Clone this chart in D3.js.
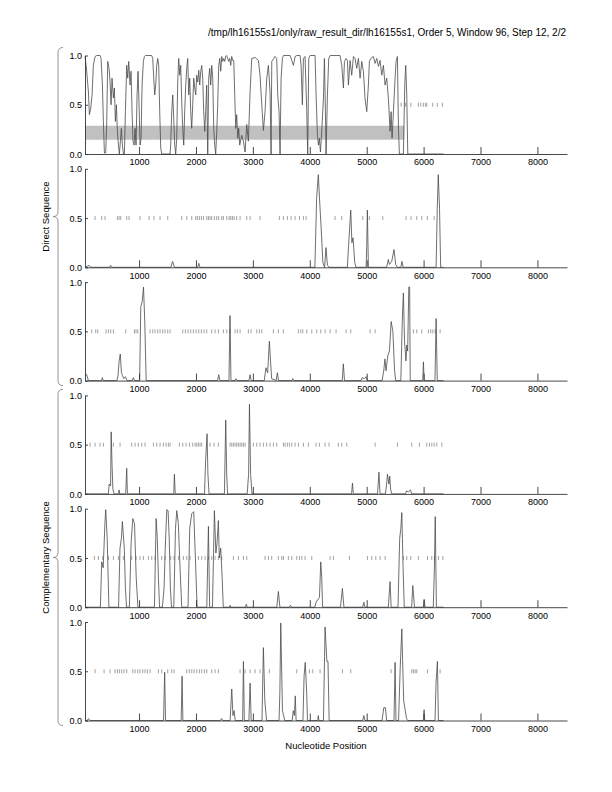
<!DOCTYPE html>
<html>
<head>
<meta charset="utf-8">
<script src="https://cdn.jsdelivr.net/npm/d3@7"></script>
<style>
  body { margin: 0; background: #fff; }
  svg text { font-family: "Liberation Sans", Arial, Helvetica, sans-serif; font-size: 9px; fill: #000; }
  svg text.title { font-size: 10px; }
  svg text.label { font-size: 9.5px; }
</style>
</head>
<body>
<svg id="chart" width="612" height="792"></svg>
<script>
// ---- data ----
const title = "/tmp/lh16155s1/only/raw_result_dir/lh16155s1, Order 5, Window 96, Step 12, 2/2";
const xLabel = "Nucleotide Position";
const groupLabels = ["Direct Sequence", "Complementary Sequence"];
const xDomain = [50, 8520];
const xTicks = [1000, 2000, 3000, 4000, 5000, 6000, 7000, 8000];
const yTicks = [0, 0.5, 1];

// shaded band in the first panel: [low, high, end position]
const band = [0.145, 0.287, 5660];

// coding potential curves, [position, value]
const direct1 = [
  [51,0.99],[80,0.84],[110,0.63],[127,0.40],[150,0.46],[174,0.60],[197,0.90],[227,0.99],[256,1.0],[315,1.0],
  [332,0.97],[356,0.70],[373,0.33],[391,0.01],[414,0.01],[432,0.33],[449,0.94],[473,0.87],[490,0.73],[508,0.50],
  [525,0.77],[549,0.57],[566,0.67],[584,0.33],[602,0.50],[619,0.23],[637,0.09],[654,0.0],[672,0.13],[689,0.26],
  [707,0.09],[725,0.0],[742,0.0],[760,0.43],[783,0.90],[801,0.77],[818,0.94],[842,0.70],[859,0.84],[877,0.43],
  [894,0.13],[912,0.09],[930,0.26],[947,0.09],[965,0.60],[982,0.84],[1000,0.50],[1018,0.09],[1035,0.16],[1053,0.70],
  [1076,0.94],[1094,0.99],[1111,1.0],[1222,1.0],[1240,0.97],[1258,0.77],[1275,0.60],[1293,0.70],[1310,0.90],[1328,0.97],
  [1345,0.90],[1363,0.43],[1381,0.06],[1398,0.0],[1545,0.0],[1556,0.09],[1574,0.43],[1592,0.60],[1609,0.36],[1627,0.09],
  [1644,0.0],[1662,0.16],[1679,0.73],[1697,0.97],[1715,0.80],[1732,0.90],[1750,0.53],[1767,0.26],[1785,0.09],[1802,0.43],
  [1820,0.70],[1838,0.87],[1855,0.97],[1873,0.60],[1890,0.77],[1908,0.43],[1925,0.26],[1943,0.50],[1961,0.77],[1978,0.67],
  [1996,0.60],[2013,0.80],[2031,0.73],[2049,0.85],[2066,0.70],[2084,0.84],[2101,0.90],[2119,0.77],[2136,0.43],[2154,0.23],
  [2171,0.43],[2189,0.70],[2207,0.0],[2224,0.77],[2242,0.87],[2259,0.70],[2277,0.90],[2295,0.77],[2312,0.26],[2330,0.09],
  [2347,0.0],[2365,0.23],[2382,0.50],[2400,0.90],[2418,0.97],[2435,0.84],[2453,0.99],[2470,0.94],[2488,0.97],[2505,0.94],
  [2523,0.99],[2540,1.0],[2558,0.97],[2576,0.94],[2593,0.97],[2611,0.90],[2628,0.99],[2646,0.95],[2664,0.95],[2681,0.60],
  [2699,0.26],[2716,0.40],[2734,0.16],[2751,0.26],[2769,0.09],[2804,0.19],[2834,0.13],[2863,0.02],[2892,0.30],[2921,0.13],
  [2951,0.63],[2980,0.97],[3039,0.98],[3097,0.95],[3126,0.80],[3156,0.50],[3185,0.24],[3214,0.43],[3244,0.77],[3273,0.90],
  [3302,0.63],[3320,0.0],[3332,0.94],[3390,0.99],[3419,0.97],[3437,0.60],[3460,0.43],[3478,0.0],[3496,0.77],[3519,0.97],
  [3537,1.0],[3654,1.0],[3683,0.95],[3712,0.90],[3742,0.99],[3771,1.0],[3829,1.0],[3847,0.90],[3870,0.50],[3888,0.97],
  [3917,0.99],[3947,0.43],[3964,0.0],[3982,0.97],[4005,1.0],[4093,1.0],[4111,0.60],[4134,0.19],[4152,0.09],[4169,0.16],
  [4187,0.02],[4210,0.23],[4240,0.56],[4257,0.97],[4275,0.43],[4286,0.0],[4310,0.60],[4333,0.97],[4357,1.0],[4532,1.0],
  [4562,0.90],[4591,0.67],[4609,0.94],[4638,0.97],[4661,0.95],[4679,0.70],[4708,0.95],[4737,0.80],[4767,0.99],[4796,0.97],
  [4825,0.87],[4855,0.97],[4884,0.77],[4913,0.94],[4942,0.84],[4972,0.56],[5001,0.43],[5030,0.70],[5048,0.94],[5071,0.97],
  [5118,0.99],[5147,0.92],[5177,0.97],[5206,0.89],[5235,0.95],[5265,0.80],[5294,0.90],[5323,0.70],[5352,0.77],[5382,0.56],
  [5411,0.23],[5429,0.43],[5446,0.16],[5470,0.43],[5499,0.77],[5517,0.94],[5540,0.99],[5558,0.26],[5575,0.0],[5645,0.0],
  [5669,0.70],[5686,0.90],[5704,0.60],[5722,0.0],[6350,0.0]
];
const direct2 = [
  [50,0],[120,0.02],[150,0],[480,0],[500,0.02],[520,0],[1560,0],[1590,0.06],[1620,0],[2030,0],[2050,0.04],[2070,0],
  [4090,0],[4120,0.7],[4150,0.94],[4180,0.6],[4200,0.4],[4230,0.05],[4260,0],[4285,0.2],[4310,0.02],[4340,0],
  [4660,0],[4690,0.3],[4720,0.58],[4740,0.25],[4760,0.3],[4790,0.05],[4810,0],[4990,0],[5000,0.2],[5012,0.58],[5030,0],
  [5350,0],[5380,0.08],[5400,0.03],[5440,0.06],[5480,0.18],[5510,0.03],[5540,0],[5600,0],[5620,0.06],[5640,0],
  [6220,0],[6240,0.6],[6258,0.94],[6280,0.6],[6300,0],[6350,0]
];
const direct3 = [
  [50,0.06],[80,0.06],[110,0],[340,0],[355,0.03],[370,0],[610,0],[630,0.05],[650,0.2],[670,0.27],[690,0.08],[710,0.05],
  [730,0.02],[760,0.04],[790,0],[880,0],[900,0.03],[920,0],[1010,0],[1030,0.75],[1055,0.8],[1078,0.95],[1100,0.6],[1125,0],
  [2380,0],[2400,0.06],[2420,0],[2580,0],[2598,0.66],[2615,0],[2690,0],[2700,0.02],[2720,0],[2930,0],[2950,0.06],[2970,0],
  [3200,0],[3230,0.13],[3260,0.08],[3290,0.4],[3310,0.2],[3330,0.02],[3410,0],[3430,0.08],[3450,0],[3690,0],[3700,0.02],[3720,0],
  [4570,0],[4590,0.17],[4610,0],[4900,0],[4920,0.03],[4960,0.02],[4990,0.04],[5010,0],[5270,0],[5300,0.1],[5320,0.22],
  [5340,0.1],[5370,0.25],[5400,0.3],[5430,0.6],[5460,0.5],[5490,0.1],[5510,0],[5600,0],[5625,0.6],[5645,0.89],[5665,0.4],
  [5690,0.2],[5705,0.36],[5720,0.3],[5740,0.95],[5755,0.95],[5765,0],[5985,0],[5997,0.19],[6010,0],[6200,0],[6220,0.63],
  [6240,0],[6350,0]
];
const compl1 = [
  [50,0],[460,0],[475,0.1],[500,0.08],[510,0.63],[525,0.3],[540,0.05],[560,0],[640,0],[650,0.04],[660,0],[765,0],
  [783,0.26],[795,0],[1610,0],[1621,0.2],[1635,0],[2150,0],[2170,0.35],[2195,0.61],[2210,0.2],[2230,0],[2500,0],
  [2523,0.75],[2540,0.2],[2555,0],[2900,0],[2925,0.2],[2940,0.91],[2960,0.2],[2985,0],[4735,0],[4750,0.11],[4765,0],
  [5190,0],[5215,0.22],[5235,0],[5330,0],[5350,0.1],[5365,0.2],[5390,0.1],[5405,0.18],[5420,0.05],[5440,0],[5680,0],
  [5700,0.03],[5730,0.02],[5770,0.04],[5790,0],[6350,0]
];
const compl2 = [
  [50,0],[320,0],[344,0.46],[370,0.4],[400,0.85],[414,0.99],[440,0.7],[470,0],[640,0],[665,0.6],[690,0.7],[707,0.87],
  [740,0.6],[760,0.2],[780,0],[830,0],[860,0.65],[890,0.9],[920,0.85],[950,0.3],[980,0],[1270,0],[1300,0.9],[1320,0.7],
  [1340,0.3],[1360,0],[1410,0],[1440,0.2],[1460,0.6],[1487,0.99],[1510,0.98],[1530,0.7],[1550,0.2],[1570,0],[1610,0],
  [1640,0.8],[1663,0.98],[1690,0.85],[1720,0.4],[1750,0],[1860,0],[1890,0.8],[1926,0.95],[1960,0.97],[1990,0.5],[2020,0],
  [2190,0],[2219,0.82],[2240,0],[2290,0],[2324,0.98],[2350,0.55],[2370,0.65],[2394,0.88],[2410,0.5],[2435,0.6],[2460,0.3],
  [2480,0],[2590,0],[2600,0.02],[2610,0],[2870,0],[2885,0.03],[2900,0],[3420,0],[3448,0.16],[3475,0],[3640,0],[3660,0.02],
  [3680,0],[4090,0],[4110,0.05],[4170,0.1],[4193,0.46],[4210,0.3],[4225,0],[4540,0],[4573,0.19],[4600,0],[4930,0],
  [4950,0.05],[4970,0],[5380,0],[5411,0.26],[5430,0],[5550,0],[5580,0.7],[5600,0.8],[5617,0.96],[5640,0.4],[5660,0],
  [5790,0],[5810,0.22],[5840,0],[5995,0],[6010,0.08],[6025,0],[6170,0],[6190,0.4],[6205,0.92],[6225,0],[6350,0]
];
const compl3 = [
  [50,0],[90,0],[110,0.02],[140,0],[1430,0],[1450,0.49],[1465,0],[1740,0],[1756,0.45],[1770,0],[2430,0],[2450,0.02],
  [2470,0],[2600,0],[2629,0.32],[2650,0.05],[2670,0.1],[2690,0],[2820,0],[2834,0.6],[2850,0],[2930,0],[2951,0.38],
  [2970,0],[3160,0],[3185,0.74],[3210,0.2],[3240,0],[3460,0],[3475,0.3],[3490,0.99],[3520,0.1],[3560,0],[3690,0],
  [3710,0.1],[3730,0.05],[3745,0.25],[3760,0],[3880,0],[3900,0.45],[3920,0.59],[3945,0.3],[3960,0],[4140,0],[4150,0.05],
  [4160,0],[4240,0],[4269,0.95],[4300,0.6],[4320,0.6],[4340,0],[4930,0],[4950,0.05],[4970,0],[5270,0],[5300,0.13],
  [5330,0.13],[5350,0],[5480,0],[5499,0.59],[5515,0],[5560,0],[5590,0.55],[5617,0.93],[5650,0.2],[5700,0.02],[5720,0],
  [5995,0],[6009,0.11],[6020,0],[6200,0],[6220,0.4],[6243,0.6],[6260,0],[6350,0]
];

// short marks drawn at 0.5 (positions)
const marksDirect1 = [5605,5680,5775,5909,5951,5996,6032,6056,6161,6242,6330];
const marksDirect2 = [227,344,402,619,649,678,783,824,1017,1176,1263,1369,1504,1750,1838,1926,1996,2025,2060,2095,
  2131,2190,2219,2248,2277,2324,2365,2400,2453,2482,2541,2582,2611,2640,2670,2716,2775,2892,2951,3126,3466,3536,3607,
  3671,3742,3818,3888,3935,4444,4562,4931,5047,5283,5692,5780,5880,5968,6067,6185];
const marksDirect3 = [168,238,274,420,461,502,549,766,918,947,977,1193,1240,1281,1328,1369,1416,1457,1504,1545,1768,
  1814,1861,1908,1954,2002,2049,2095,2142,2190,2277,2336,2394,2482,2541,2599,2687,2728,2775,2921,2968,3068,3114,3156,
  3360,3448,3536,3800,3842,3877,3947,4035,4123,4193,4269,4357,4462,4638,4720,5060,5148,5821,5880,5968,6085,6126,6162,
  6203,6290];
const marksCompl1 = [139,227,314,373,549,666,871,930,988,1047,1105,1252,1310,1369,1427,1474,1515,1545,1709,1768,1826,
  1885,1943,1984,2014,2043,2072,2101,2248,2318,2394,2599,2629,2658,2687,2716,2746,2775,2804,2834,2863,3009,3068,3126,
  3185,3243,3302,3361,3419,3537,3566,3607,3642,3683,3742,3800,3888,3976,4110,4169,4269,4339,4503,4562,4650,5148,5541,
  5792,5927,6056,6103,6144,6185,6232,6320];
const marksCompl2 = [215,285,361,461,549,637,724,871,947,1017,1076,1164,1223,1281,1398,1457,1557,1615,1691,1779,1838,
  1896,2043,2101,2160,2218,2277,2336,2394,2453,2658,2746,2834,2892,3214,3273,3331,3448,3507,3537,3624,3683,3771,3818,
  3859,3917,4035,4357,4415,4697,5013,5089,5160,5236,5324,5646,5704,5775,5909,6068,6144,6191,6261,6338];
const marksCompl3 = [227,385,490,578,619,654,695,736,783,889,930,977,1017,1064,1105,1146,1193,1340,1398,1504,1574,
  1615,1838,1884,1926,1967,2014,2060,2101,2148,2190,2277,2336,2394,2775,2863,2951,3039,3126,3290,3771,3994,4053,4181,
  4574,4720,5429,5792,5821,5851,5880,6068,6290];

const curves = [direct1, direct2, direct3, compl1, compl2, compl3];
const marks = [marksDirect1, marksDirect2, marksDirect3, marksCompl1, marksCompl2, marksCompl3];

// ---- layout ----
const svg = d3.select("#chart");
const left = 85, right = 567;
const firstTop = 55.5, panelH = 98.5, panelStep = 113.3;

const x = d3.scaleLinear().domain(xDomain).range([left, right]);

svg.append("text")
  .attr("class", "title")
  .attr("x", 566).attr("y", 36)
  .attr("text-anchor", "end")
  .text(title);

curves.forEach((data, i) => {
  const top = firstTop + i * panelStep;
  const y = d3.scaleLinear().domain([0, 1]).range([top + panelH, top]);
  const g = svg.append("g");

  // gray band (first panel only)
  if (i === 0) {
    g.append("rect")
      .attr("x", x(xDomain[0]))
      .attr("y", y(band[1]))
      .attr("width", x(band[2]) - x(xDomain[0]))
      .attr("height", y(band[0]) - y(band[1]))
      .attr("fill", "#c0c0c0");
  }

  // marks at 0.5
  g.selectAll("line.mark")
    .data(marks[i])
    .enter().append("line")
    .attr("class", "mark")
    .attr("x1", d => x(d)).attr("x2", d => x(d))
    .attr("y1", y(0.5) - 2).attr("y2", y(0.5) + 2)
    .attr("stroke", "#8a8a8a")
    .attr("stroke-width", 0.8);

  const line = d3.line()
    .x(d => x(d[0]))
    .y(d => y(d[1]));

  g.append("path")
    .datum(data)
    .attr("d", line)
    .attr("fill", "none")
    .attr("stroke", "#4a4a4a")
    .attr("stroke-width", 0.8);

  // axes
  const xAxis = g.append("g")
    .attr("transform", `translate(0,${y(0)})`)
    .call(d3.axisBottom(x).tickValues(xTicks).tickSizeInner(-7).tickSizeOuter(0).tickPadding(5).tickFormat(d3.format("d")));
  const yAxis = g.append("g")
    .attr("transform", `translate(${left},0)`)
    .call(d3.axisLeft(y).tickValues(yTicks).tickSizeInner(-3).tickSizeOuter(0).tickPadding(3).tickFormat(d3.format(".1f")));

  [xAxis, yAxis].forEach(a => {
    a.attr("font-family", null).attr("font-size", null);
    a.selectAll("path, line").attr("stroke", "#333").attr("stroke-width", 0.9);
  });
  yAxis.selectAll("text").attr("dy", "0.35em");
});

// braces and group labels
const groupSpan = [[0, 2], [3, 5]];
groupSpan.forEach(([a, b], k) => {
  const t = firstTop + a * panelStep - 8 + (k ? 2 : 0);
  const bt = firstTop + b * panelStep + panelH + 5;
  const mid = (t + bt) / 2;
  const bx = 58;
  const p = d3.path();
  p.moveTo(bx + 5, t);
  p.quadraticCurveTo(bx, t, bx, t + 5);
  p.lineTo(bx, mid - 5);
  p.quadraticCurveTo(bx, mid, bx - 5, mid);
  p.quadraticCurveTo(bx, mid, bx, mid + 5);
  p.lineTo(bx, bt - 5);
  p.quadraticCurveTo(bx, bt, bx + 5, bt);
  svg.append("path")
    .attr("d", p.toString())
    .attr("fill", "none")
    .attr("stroke", "#888")
    .attr("stroke-width", 0.9);

  svg.append("text")
    .attr("class", "label")
    .attr("transform", `translate(49,${mid}) rotate(-90)`)
    .attr("text-anchor", "middle")
    .text(groupLabels[k]);
});

svg.append("text")
  .attr("class", "label")
  .attr("x", (left + right) / 2)
  .attr("y", 749)
  .attr("text-anchor", "middle")
  .text(xLabel);
</script>
</body>
</html>
